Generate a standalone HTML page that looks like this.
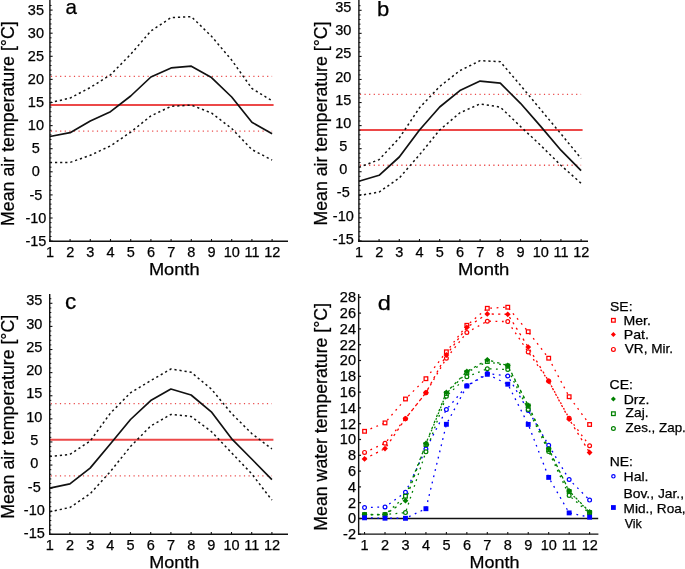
<!DOCTYPE html>
<html><head><meta charset="utf-8"><style>
html,body{margin:0;padding:0;background:#fff;}
svg{display:block;will-change:transform;}
text{font-family:"Liberation Sans", sans-serif;fill:#000;stroke:#000;stroke-width:0.25px;}
</style></head><body>
<svg width="685" height="569" viewBox="0 0 685 569">
<rect width="685" height="569" fill="#fff"/>
<line x1="49.9" y1="104.9" x2="273.6" y2="104.9" stroke="#ec4848" stroke-width="2"/>
<line x1="50.9" y1="76.4" x2="272.1" y2="76.4" stroke="#ea4a4a" stroke-width="1.4" stroke-dasharray="1.2 3.4"/>
<line x1="50.9" y1="131.1" x2="272.1" y2="131.1" stroke="#ea4a4a" stroke-width="1.4" stroke-dasharray="1.2 3.4"/>
<polyline points="49.9,102.7 70.1,98.1 90.3,87.5 110.5,74.8 130.7,54.3 150.9,31 171.1,17.6 191.3,16.6 211.5,36.3 231.7,60.1 251.9,88.5 272.1,100.8" fill="none" stroke="#111" stroke-width="1.5" stroke-dasharray="2.2 2.9"/>
<polyline points="49.9,162.4 70.1,162.4 90.3,155.3 110.5,145.9 130.7,132.1 150.9,115.9 171.1,106.3 191.3,105.1 211.5,113 231.7,128.5 251.9,149.6 272.1,160.1" fill="none" stroke="#111" stroke-width="1.5" stroke-dasharray="2.2 2.9"/>
<polyline points="49.9,136.5 70.1,132.7 90.3,121.1 110.5,111.7 130.7,96 150.9,77 171.1,67.9 191.3,66.2 211.5,77.6 231.7,97 251.9,122.3 272.1,133.7" fill="none" stroke="#111" stroke-width="1.7" stroke-linejoin="round"/>
<line x1="49.9" y1="0" x2="49.9" y2="242" stroke="#111" stroke-width="1.4"/>
<line x1="49.2" y1="241.3" x2="288" y2="241.3" stroke="#111" stroke-width="1.4"/>
<line x1="49.9" y1="241.1" x2="52.6" y2="241.1" stroke="#111" stroke-width="1.1"/>
<line x1="49.9" y1="236.48" x2="51.5" y2="236.48" stroke="#111" stroke-width="1"/>
<line x1="49.9" y1="231.86" x2="51.5" y2="231.86" stroke="#111" stroke-width="1"/>
<line x1="49.9" y1="227.24" x2="51.5" y2="227.24" stroke="#111" stroke-width="1"/>
<line x1="49.9" y1="222.62" x2="51.5" y2="222.62" stroke="#111" stroke-width="1"/>
<line x1="49.9" y1="218" x2="52.6" y2="218" stroke="#111" stroke-width="1.1"/>
<line x1="49.9" y1="213.38" x2="51.5" y2="213.38" stroke="#111" stroke-width="1"/>
<line x1="49.9" y1="208.76" x2="51.5" y2="208.76" stroke="#111" stroke-width="1"/>
<line x1="49.9" y1="204.14" x2="51.5" y2="204.14" stroke="#111" stroke-width="1"/>
<line x1="49.9" y1="199.52" x2="51.5" y2="199.52" stroke="#111" stroke-width="1"/>
<line x1="49.9" y1="194.9" x2="52.6" y2="194.9" stroke="#111" stroke-width="1.1"/>
<line x1="49.9" y1="190.28" x2="51.5" y2="190.28" stroke="#111" stroke-width="1"/>
<line x1="49.9" y1="185.66" x2="51.5" y2="185.66" stroke="#111" stroke-width="1"/>
<line x1="49.9" y1="181.04" x2="51.5" y2="181.04" stroke="#111" stroke-width="1"/>
<line x1="49.9" y1="176.42" x2="51.5" y2="176.42" stroke="#111" stroke-width="1"/>
<line x1="49.9" y1="171.8" x2="52.6" y2="171.8" stroke="#111" stroke-width="1.1"/>
<line x1="49.9" y1="167.18" x2="51.5" y2="167.18" stroke="#111" stroke-width="1"/>
<line x1="49.9" y1="162.56" x2="51.5" y2="162.56" stroke="#111" stroke-width="1"/>
<line x1="49.9" y1="157.94" x2="51.5" y2="157.94" stroke="#111" stroke-width="1"/>
<line x1="49.9" y1="153.32" x2="51.5" y2="153.32" stroke="#111" stroke-width="1"/>
<line x1="49.9" y1="148.7" x2="52.6" y2="148.7" stroke="#111" stroke-width="1.1"/>
<line x1="49.9" y1="144.08" x2="51.5" y2="144.08" stroke="#111" stroke-width="1"/>
<line x1="49.9" y1="139.46" x2="51.5" y2="139.46" stroke="#111" stroke-width="1"/>
<line x1="49.9" y1="134.84" x2="51.5" y2="134.84" stroke="#111" stroke-width="1"/>
<line x1="49.9" y1="130.22" x2="51.5" y2="130.22" stroke="#111" stroke-width="1"/>
<line x1="49.9" y1="125.6" x2="52.6" y2="125.6" stroke="#111" stroke-width="1.1"/>
<line x1="49.9" y1="120.98" x2="51.5" y2="120.98" stroke="#111" stroke-width="1"/>
<line x1="49.9" y1="116.36" x2="51.5" y2="116.36" stroke="#111" stroke-width="1"/>
<line x1="49.9" y1="111.74" x2="51.5" y2="111.74" stroke="#111" stroke-width="1"/>
<line x1="49.9" y1="107.12" x2="51.5" y2="107.12" stroke="#111" stroke-width="1"/>
<line x1="49.9" y1="102.5" x2="52.6" y2="102.5" stroke="#111" stroke-width="1.1"/>
<line x1="49.9" y1="97.88" x2="51.5" y2="97.88" stroke="#111" stroke-width="1"/>
<line x1="49.9" y1="93.26" x2="51.5" y2="93.26" stroke="#111" stroke-width="1"/>
<line x1="49.9" y1="88.64" x2="51.5" y2="88.64" stroke="#111" stroke-width="1"/>
<line x1="49.9" y1="84.02" x2="51.5" y2="84.02" stroke="#111" stroke-width="1"/>
<line x1="49.9" y1="79.4" x2="52.6" y2="79.4" stroke="#111" stroke-width="1.1"/>
<line x1="49.9" y1="74.78" x2="51.5" y2="74.78" stroke="#111" stroke-width="1"/>
<line x1="49.9" y1="70.16" x2="51.5" y2="70.16" stroke="#111" stroke-width="1"/>
<line x1="49.9" y1="65.54" x2="51.5" y2="65.54" stroke="#111" stroke-width="1"/>
<line x1="49.9" y1="60.92" x2="51.5" y2="60.92" stroke="#111" stroke-width="1"/>
<line x1="49.9" y1="56.3" x2="52.6" y2="56.3" stroke="#111" stroke-width="1.1"/>
<line x1="49.9" y1="51.68" x2="51.5" y2="51.68" stroke="#111" stroke-width="1"/>
<line x1="49.9" y1="47.06" x2="51.5" y2="47.06" stroke="#111" stroke-width="1"/>
<line x1="49.9" y1="42.44" x2="51.5" y2="42.44" stroke="#111" stroke-width="1"/>
<line x1="49.9" y1="37.82" x2="51.5" y2="37.82" stroke="#111" stroke-width="1"/>
<line x1="49.9" y1="33.2" x2="52.6" y2="33.2" stroke="#111" stroke-width="1.1"/>
<line x1="49.9" y1="28.58" x2="51.5" y2="28.58" stroke="#111" stroke-width="1"/>
<line x1="49.9" y1="23.96" x2="51.5" y2="23.96" stroke="#111" stroke-width="1"/>
<line x1="49.9" y1="19.34" x2="51.5" y2="19.34" stroke="#111" stroke-width="1"/>
<line x1="49.9" y1="14.72" x2="51.5" y2="14.72" stroke="#111" stroke-width="1"/>
<line x1="49.9" y1="10.1" x2="52.6" y2="10.1" stroke="#111" stroke-width="1.1"/>
<line x1="49.9" y1="5.48" x2="51.5" y2="5.48" stroke="#111" stroke-width="1"/>
<text x="35.9" y="245.8" font-size="14.5" text-anchor="middle" >-15</text>
<text x="35.9" y="222.67" font-size="14.5" text-anchor="middle" >-10</text>
<text x="35.9" y="199.54" font-size="14.5" text-anchor="middle" >-5</text>
<text x="35.9" y="176.41" font-size="14.5" text-anchor="middle" >0</text>
<text x="35.9" y="153.28" font-size="14.5" text-anchor="middle" >5</text>
<text x="35.9" y="130.15" font-size="14.5" text-anchor="middle" >10</text>
<text x="35.9" y="107.02" font-size="14.5" text-anchor="middle" >15</text>
<text x="35.9" y="83.89" font-size="14.5" text-anchor="middle" >20</text>
<text x="35.9" y="60.76" font-size="14.5" text-anchor="middle" >25</text>
<text x="35.9" y="37.63" font-size="14.5" text-anchor="middle" >30</text>
<text x="35.9" y="14.5" font-size="14.5" text-anchor="middle" >35</text>
<line x1="49.9" y1="241.3" x2="49.9" y2="239" stroke="#111" stroke-width="1.1"/>
<text x="50" y="257.2" font-size="14.5" text-anchor="middle" >1</text>
<line x1="70.1" y1="241.3" x2="70.1" y2="239" stroke="#111" stroke-width="1.1"/>
<text x="70.2" y="257.2" font-size="14.5" text-anchor="middle" >2</text>
<line x1="90.3" y1="241.3" x2="90.3" y2="239" stroke="#111" stroke-width="1.1"/>
<text x="90.4" y="257.2" font-size="14.5" text-anchor="middle" >3</text>
<line x1="110.5" y1="241.3" x2="110.5" y2="239" stroke="#111" stroke-width="1.1"/>
<text x="110.6" y="257.2" font-size="14.5" text-anchor="middle" >4</text>
<line x1="130.7" y1="241.3" x2="130.7" y2="239" stroke="#111" stroke-width="1.1"/>
<text x="130.8" y="257.2" font-size="14.5" text-anchor="middle" >5</text>
<line x1="150.9" y1="241.3" x2="150.9" y2="239" stroke="#111" stroke-width="1.1"/>
<text x="151" y="257.2" font-size="14.5" text-anchor="middle" >6</text>
<line x1="171.1" y1="241.3" x2="171.1" y2="239" stroke="#111" stroke-width="1.1"/>
<text x="171.2" y="257.2" font-size="14.5" text-anchor="middle" >7</text>
<line x1="191.3" y1="241.3" x2="191.3" y2="239" stroke="#111" stroke-width="1.1"/>
<text x="191.4" y="257.2" font-size="14.5" text-anchor="middle" >8</text>
<line x1="211.5" y1="241.3" x2="211.5" y2="239" stroke="#111" stroke-width="1.1"/>
<text x="211.6" y="257.2" font-size="14.5" text-anchor="middle" >9</text>
<line x1="231.7" y1="241.3" x2="231.7" y2="239" stroke="#111" stroke-width="1.1"/>
<text x="231.8" y="257.2" font-size="14.5" text-anchor="middle" >10</text>
<line x1="251.9" y1="241.3" x2="251.9" y2="239" stroke="#111" stroke-width="1.1"/>
<text x="252" y="257.2" font-size="14.5" text-anchor="middle" >11</text>
<line x1="272.1" y1="241.3" x2="272.1" y2="239" stroke="#111" stroke-width="1.1"/>
<text x="272.2" y="257.2" font-size="14.5" text-anchor="middle" >12</text>
<text x="148.9" y="274.93" font-size="16.73" textLength="50.68" lengthAdjust="spacingAndGlyphs">Month</text>
<text x="65.53" y="14" font-size="20.09" textLength="11.45" lengthAdjust="spacingAndGlyphs">a</text>
<text x="0" y="0" font-size="17.6" textLength="204.73" lengthAdjust="spacingAndGlyphs" transform="translate(13.95,225.97) rotate(-90)">Mean air temperature [°C]</text>
<line x1="358.9" y1="129.9" x2="582.6" y2="129.9" stroke="#ec4848" stroke-width="2"/>
<line x1="359.9" y1="94.4" x2="581.1" y2="94.4" stroke="#ea4a4a" stroke-width="1.4" stroke-dasharray="1.2 3.4"/>
<line x1="359.9" y1="165.3" x2="581.1" y2="165.3" stroke="#ea4a4a" stroke-width="1.4" stroke-dasharray="1.2 3.4"/>
<polyline points="358.9,167.4 379.1,159.6 399.3,138 419.5,107.8 439.7,86.5 459.9,70.6 480.1,60.7 500.3,61.7 520.5,85.3 540.7,109.6 560.9,133.8 581.1,158.5" fill="none" stroke="#111" stroke-width="1.5" stroke-dasharray="2.2 2.9"/>
<polyline points="358.9,195.5 379.1,192.1 399.3,178 419.5,154.8 439.7,130 459.9,112.8 480.1,103.9 500.3,107.1 520.5,126.5 540.7,145.4 560.9,165.3 581.1,183.3" fill="none" stroke="#111" stroke-width="1.5" stroke-dasharray="2.2 2.9"/>
<polyline points="358.9,181.2 379.1,175.3 399.3,157 419.5,130 439.7,107 459.9,90.6 480.1,81.1 500.3,83.2 520.5,103.3 540.7,126.4 560.9,150.2 581.1,170.6" fill="none" stroke="#111" stroke-width="1.7" stroke-linejoin="round"/>
<line x1="358.9" y1="0" x2="358.9" y2="242" stroke="#111" stroke-width="1.4"/>
<line x1="358.2" y1="241.3" x2="588" y2="241.3" stroke="#111" stroke-width="1.4"/>
<line x1="358.9" y1="240.9" x2="361.6" y2="240.9" stroke="#111" stroke-width="1.1"/>
<line x1="358.9" y1="236.29" x2="360.5" y2="236.29" stroke="#111" stroke-width="1"/>
<line x1="358.9" y1="231.68" x2="360.5" y2="231.68" stroke="#111" stroke-width="1"/>
<line x1="358.9" y1="227.06" x2="360.5" y2="227.06" stroke="#111" stroke-width="1"/>
<line x1="358.9" y1="222.45" x2="360.5" y2="222.45" stroke="#111" stroke-width="1"/>
<line x1="358.9" y1="217.84" x2="361.6" y2="217.84" stroke="#111" stroke-width="1.1"/>
<line x1="358.9" y1="213.23" x2="360.5" y2="213.23" stroke="#111" stroke-width="1"/>
<line x1="358.9" y1="208.62" x2="360.5" y2="208.62" stroke="#111" stroke-width="1"/>
<line x1="358.9" y1="204" x2="360.5" y2="204" stroke="#111" stroke-width="1"/>
<line x1="358.9" y1="199.39" x2="360.5" y2="199.39" stroke="#111" stroke-width="1"/>
<line x1="358.9" y1="194.78" x2="361.6" y2="194.78" stroke="#111" stroke-width="1.1"/>
<line x1="358.9" y1="190.17" x2="360.5" y2="190.17" stroke="#111" stroke-width="1"/>
<line x1="358.9" y1="185.56" x2="360.5" y2="185.56" stroke="#111" stroke-width="1"/>
<line x1="358.9" y1="180.94" x2="360.5" y2="180.94" stroke="#111" stroke-width="1"/>
<line x1="358.9" y1="176.33" x2="360.5" y2="176.33" stroke="#111" stroke-width="1"/>
<line x1="358.9" y1="171.72" x2="361.6" y2="171.72" stroke="#111" stroke-width="1.1"/>
<line x1="358.9" y1="167.11" x2="360.5" y2="167.11" stroke="#111" stroke-width="1"/>
<line x1="358.9" y1="162.5" x2="360.5" y2="162.5" stroke="#111" stroke-width="1"/>
<line x1="358.9" y1="157.88" x2="360.5" y2="157.88" stroke="#111" stroke-width="1"/>
<line x1="358.9" y1="153.27" x2="360.5" y2="153.27" stroke="#111" stroke-width="1"/>
<line x1="358.9" y1="148.66" x2="361.6" y2="148.66" stroke="#111" stroke-width="1.1"/>
<line x1="358.9" y1="144.05" x2="360.5" y2="144.05" stroke="#111" stroke-width="1"/>
<line x1="358.9" y1="139.44" x2="360.5" y2="139.44" stroke="#111" stroke-width="1"/>
<line x1="358.9" y1="134.82" x2="360.5" y2="134.82" stroke="#111" stroke-width="1"/>
<line x1="358.9" y1="130.21" x2="360.5" y2="130.21" stroke="#111" stroke-width="1"/>
<line x1="358.9" y1="125.6" x2="361.6" y2="125.6" stroke="#111" stroke-width="1.1"/>
<line x1="358.9" y1="120.99" x2="360.5" y2="120.99" stroke="#111" stroke-width="1"/>
<line x1="358.9" y1="116.38" x2="360.5" y2="116.38" stroke="#111" stroke-width="1"/>
<line x1="358.9" y1="111.76" x2="360.5" y2="111.76" stroke="#111" stroke-width="1"/>
<line x1="358.9" y1="107.15" x2="360.5" y2="107.15" stroke="#111" stroke-width="1"/>
<line x1="358.9" y1="102.54" x2="361.6" y2="102.54" stroke="#111" stroke-width="1.1"/>
<line x1="358.9" y1="97.93" x2="360.5" y2="97.93" stroke="#111" stroke-width="1"/>
<line x1="358.9" y1="93.32" x2="360.5" y2="93.32" stroke="#111" stroke-width="1"/>
<line x1="358.9" y1="88.7" x2="360.5" y2="88.7" stroke="#111" stroke-width="1"/>
<line x1="358.9" y1="84.09" x2="360.5" y2="84.09" stroke="#111" stroke-width="1"/>
<line x1="358.9" y1="79.48" x2="361.6" y2="79.48" stroke="#111" stroke-width="1.1"/>
<line x1="358.9" y1="74.87" x2="360.5" y2="74.87" stroke="#111" stroke-width="1"/>
<line x1="358.9" y1="70.26" x2="360.5" y2="70.26" stroke="#111" stroke-width="1"/>
<line x1="358.9" y1="65.64" x2="360.5" y2="65.64" stroke="#111" stroke-width="1"/>
<line x1="358.9" y1="61.03" x2="360.5" y2="61.03" stroke="#111" stroke-width="1"/>
<line x1="358.9" y1="56.42" x2="361.6" y2="56.42" stroke="#111" stroke-width="1.1"/>
<line x1="358.9" y1="51.81" x2="360.5" y2="51.81" stroke="#111" stroke-width="1"/>
<line x1="358.9" y1="47.2" x2="360.5" y2="47.2" stroke="#111" stroke-width="1"/>
<line x1="358.9" y1="42.58" x2="360.5" y2="42.58" stroke="#111" stroke-width="1"/>
<line x1="358.9" y1="37.97" x2="360.5" y2="37.97" stroke="#111" stroke-width="1"/>
<line x1="358.9" y1="33.36" x2="361.6" y2="33.36" stroke="#111" stroke-width="1.1"/>
<line x1="358.9" y1="28.75" x2="360.5" y2="28.75" stroke="#111" stroke-width="1"/>
<line x1="358.9" y1="24.14" x2="360.5" y2="24.14" stroke="#111" stroke-width="1"/>
<line x1="358.9" y1="19.52" x2="360.5" y2="19.52" stroke="#111" stroke-width="1"/>
<line x1="358.9" y1="14.91" x2="360.5" y2="14.91" stroke="#111" stroke-width="1"/>
<line x1="358.9" y1="10.3" x2="361.6" y2="10.3" stroke="#111" stroke-width="1.1"/>
<line x1="358.9" y1="5.69" x2="360.5" y2="5.69" stroke="#111" stroke-width="1"/>
<text x="343.3" y="243.8" font-size="14.5" text-anchor="middle" >-15</text>
<text x="343.3" y="220.63" font-size="14.5" text-anchor="middle" >-10</text>
<text x="343.3" y="197.46" font-size="14.5" text-anchor="middle" >-5</text>
<text x="343.3" y="174.29" font-size="14.5" text-anchor="middle" >0</text>
<text x="343.3" y="151.12" font-size="14.5" text-anchor="middle" >5</text>
<text x="343.3" y="127.95" font-size="14.5" text-anchor="middle" >10</text>
<text x="343.3" y="104.78" font-size="14.5" text-anchor="middle" >15</text>
<text x="343.3" y="81.61" font-size="14.5" text-anchor="middle" >20</text>
<text x="343.3" y="58.44" font-size="14.5" text-anchor="middle" >25</text>
<text x="343.3" y="35.27" font-size="14.5" text-anchor="middle" >30</text>
<text x="343.3" y="12.1" font-size="14.5" text-anchor="middle" >35</text>
<line x1="358.9" y1="241.3" x2="358.9" y2="239" stroke="#111" stroke-width="1.1"/>
<text x="359" y="257.2" font-size="14.5" text-anchor="middle" >1</text>
<line x1="379.1" y1="241.3" x2="379.1" y2="239" stroke="#111" stroke-width="1.1"/>
<text x="379.2" y="257.2" font-size="14.5" text-anchor="middle" >2</text>
<line x1="399.3" y1="241.3" x2="399.3" y2="239" stroke="#111" stroke-width="1.1"/>
<text x="399.4" y="257.2" font-size="14.5" text-anchor="middle" >3</text>
<line x1="419.5" y1="241.3" x2="419.5" y2="239" stroke="#111" stroke-width="1.1"/>
<text x="419.6" y="257.2" font-size="14.5" text-anchor="middle" >4</text>
<line x1="439.7" y1="241.3" x2="439.7" y2="239" stroke="#111" stroke-width="1.1"/>
<text x="439.8" y="257.2" font-size="14.5" text-anchor="middle" >5</text>
<line x1="459.9" y1="241.3" x2="459.9" y2="239" stroke="#111" stroke-width="1.1"/>
<text x="460" y="257.2" font-size="14.5" text-anchor="middle" >6</text>
<line x1="480.1" y1="241.3" x2="480.1" y2="239" stroke="#111" stroke-width="1.1"/>
<text x="480.2" y="257.2" font-size="14.5" text-anchor="middle" >7</text>
<line x1="500.3" y1="241.3" x2="500.3" y2="239" stroke="#111" stroke-width="1.1"/>
<text x="500.4" y="257.2" font-size="14.5" text-anchor="middle" >8</text>
<line x1="520.5" y1="241.3" x2="520.5" y2="239" stroke="#111" stroke-width="1.1"/>
<text x="520.6" y="257.2" font-size="14.5" text-anchor="middle" >9</text>
<line x1="540.7" y1="241.3" x2="540.7" y2="239" stroke="#111" stroke-width="1.1"/>
<text x="540.8" y="257.2" font-size="14.5" text-anchor="middle" >10</text>
<line x1="560.9" y1="241.3" x2="560.9" y2="239" stroke="#111" stroke-width="1.1"/>
<text x="561" y="257.2" font-size="14.5" text-anchor="middle" >11</text>
<line x1="581.1" y1="241.3" x2="581.1" y2="239" stroke="#111" stroke-width="1.1"/>
<text x="581.2" y="257.2" font-size="14.5" text-anchor="middle" >12</text>
<text x="458.08" y="274.93" font-size="16.73" textLength="51.31" lengthAdjust="spacingAndGlyphs">Month</text>
<text x="376.97" y="15.6" font-size="19.86" textLength="12.24" lengthAdjust="spacingAndGlyphs">b</text>
<text x="0" y="0" font-size="17.6" textLength="204.07" lengthAdjust="spacingAndGlyphs" transform="translate(326.8,225.56) rotate(-90)">Mean air temperature [°C]</text>
<line x1="49.7" y1="439.8" x2="273.4" y2="439.8" stroke="#ec4848" stroke-width="2"/>
<line x1="50.7" y1="403.6" x2="271.9" y2="403.6" stroke="#ea4a4a" stroke-width="1.4" stroke-dasharray="1.2 3.4"/>
<line x1="50.7" y1="475.9" x2="271.9" y2="475.9" stroke="#ea4a4a" stroke-width="1.4" stroke-dasharray="1.2 3.4"/>
<polyline points="49.7,456.5 69.9,454.4 90.1,441.1 110.3,413.3 130.5,392.8 150.7,380.6 170.9,369 191.1,372.2 211.3,389 231.5,413.4 251.7,433.5 271.9,449" fill="none" stroke="#111" stroke-width="1.5" stroke-dasharray="2.2 2.9"/>
<polyline points="49.7,511.7 69.9,507.5 90.1,493.8 110.3,471.7 130.5,446.5 150.7,426 170.9,414.4 191.1,416.5 211.3,431.5 231.5,452.7 251.7,473.8 271.9,500.1" fill="none" stroke="#111" stroke-width="1.5" stroke-dasharray="2.2 2.9"/>
<polyline points="49.7,488.1 69.9,483.9 90.1,468.1 110.3,444 130.5,419.5 150.7,400.6 170.9,389 191.1,395 211.3,411.8 231.5,438.6 251.7,459 271.9,479.7" fill="none" stroke="#111" stroke-width="1.7" stroke-linejoin="round"/>
<line x1="49.7" y1="294" x2="49.7" y2="535" stroke="#111" stroke-width="1.4"/>
<line x1="49" y1="534.3" x2="288" y2="534.3" stroke="#111" stroke-width="1.4"/>
<line x1="49.7" y1="534.4" x2="52.4" y2="534.4" stroke="#111" stroke-width="1.1"/>
<line x1="49.7" y1="529.78" x2="51.3" y2="529.78" stroke="#111" stroke-width="1"/>
<line x1="49.7" y1="525.16" x2="51.3" y2="525.16" stroke="#111" stroke-width="1"/>
<line x1="49.7" y1="520.53" x2="51.3" y2="520.53" stroke="#111" stroke-width="1"/>
<line x1="49.7" y1="515.91" x2="51.3" y2="515.91" stroke="#111" stroke-width="1"/>
<line x1="49.7" y1="511.29" x2="52.4" y2="511.29" stroke="#111" stroke-width="1.1"/>
<line x1="49.7" y1="506.67" x2="51.3" y2="506.67" stroke="#111" stroke-width="1"/>
<line x1="49.7" y1="502.05" x2="51.3" y2="502.05" stroke="#111" stroke-width="1"/>
<line x1="49.7" y1="497.42" x2="51.3" y2="497.42" stroke="#111" stroke-width="1"/>
<line x1="49.7" y1="492.8" x2="51.3" y2="492.8" stroke="#111" stroke-width="1"/>
<line x1="49.7" y1="488.18" x2="52.4" y2="488.18" stroke="#111" stroke-width="1.1"/>
<line x1="49.7" y1="483.56" x2="51.3" y2="483.56" stroke="#111" stroke-width="1"/>
<line x1="49.7" y1="478.94" x2="51.3" y2="478.94" stroke="#111" stroke-width="1"/>
<line x1="49.7" y1="474.31" x2="51.3" y2="474.31" stroke="#111" stroke-width="1"/>
<line x1="49.7" y1="469.69" x2="51.3" y2="469.69" stroke="#111" stroke-width="1"/>
<line x1="49.7" y1="465.07" x2="52.4" y2="465.07" stroke="#111" stroke-width="1.1"/>
<line x1="49.7" y1="460.45" x2="51.3" y2="460.45" stroke="#111" stroke-width="1"/>
<line x1="49.7" y1="455.83" x2="51.3" y2="455.83" stroke="#111" stroke-width="1"/>
<line x1="49.7" y1="451.2" x2="51.3" y2="451.2" stroke="#111" stroke-width="1"/>
<line x1="49.7" y1="446.58" x2="51.3" y2="446.58" stroke="#111" stroke-width="1"/>
<line x1="49.7" y1="441.96" x2="52.4" y2="441.96" stroke="#111" stroke-width="1.1"/>
<line x1="49.7" y1="437.34" x2="51.3" y2="437.34" stroke="#111" stroke-width="1"/>
<line x1="49.7" y1="432.72" x2="51.3" y2="432.72" stroke="#111" stroke-width="1"/>
<line x1="49.7" y1="428.09" x2="51.3" y2="428.09" stroke="#111" stroke-width="1"/>
<line x1="49.7" y1="423.47" x2="51.3" y2="423.47" stroke="#111" stroke-width="1"/>
<line x1="49.7" y1="418.85" x2="52.4" y2="418.85" stroke="#111" stroke-width="1.1"/>
<line x1="49.7" y1="414.23" x2="51.3" y2="414.23" stroke="#111" stroke-width="1"/>
<line x1="49.7" y1="409.61" x2="51.3" y2="409.61" stroke="#111" stroke-width="1"/>
<line x1="49.7" y1="404.98" x2="51.3" y2="404.98" stroke="#111" stroke-width="1"/>
<line x1="49.7" y1="400.36" x2="51.3" y2="400.36" stroke="#111" stroke-width="1"/>
<line x1="49.7" y1="395.74" x2="52.4" y2="395.74" stroke="#111" stroke-width="1.1"/>
<line x1="49.7" y1="391.12" x2="51.3" y2="391.12" stroke="#111" stroke-width="1"/>
<line x1="49.7" y1="386.5" x2="51.3" y2="386.5" stroke="#111" stroke-width="1"/>
<line x1="49.7" y1="381.87" x2="51.3" y2="381.87" stroke="#111" stroke-width="1"/>
<line x1="49.7" y1="377.25" x2="51.3" y2="377.25" stroke="#111" stroke-width="1"/>
<line x1="49.7" y1="372.63" x2="52.4" y2="372.63" stroke="#111" stroke-width="1.1"/>
<line x1="49.7" y1="368.01" x2="51.3" y2="368.01" stroke="#111" stroke-width="1"/>
<line x1="49.7" y1="363.39" x2="51.3" y2="363.39" stroke="#111" stroke-width="1"/>
<line x1="49.7" y1="358.76" x2="51.3" y2="358.76" stroke="#111" stroke-width="1"/>
<line x1="49.7" y1="354.14" x2="51.3" y2="354.14" stroke="#111" stroke-width="1"/>
<line x1="49.7" y1="349.52" x2="52.4" y2="349.52" stroke="#111" stroke-width="1.1"/>
<line x1="49.7" y1="344.9" x2="51.3" y2="344.9" stroke="#111" stroke-width="1"/>
<line x1="49.7" y1="340.28" x2="51.3" y2="340.28" stroke="#111" stroke-width="1"/>
<line x1="49.7" y1="335.65" x2="51.3" y2="335.65" stroke="#111" stroke-width="1"/>
<line x1="49.7" y1="331.03" x2="51.3" y2="331.03" stroke="#111" stroke-width="1"/>
<line x1="49.7" y1="326.41" x2="52.4" y2="326.41" stroke="#111" stroke-width="1.1"/>
<line x1="49.7" y1="321.79" x2="51.3" y2="321.79" stroke="#111" stroke-width="1"/>
<line x1="49.7" y1="317.17" x2="51.3" y2="317.17" stroke="#111" stroke-width="1"/>
<line x1="49.7" y1="312.54" x2="51.3" y2="312.54" stroke="#111" stroke-width="1"/>
<line x1="49.7" y1="307.92" x2="51.3" y2="307.92" stroke="#111" stroke-width="1"/>
<line x1="49.7" y1="303.3" x2="52.4" y2="303.3" stroke="#111" stroke-width="1.1"/>
<line x1="49.7" y1="298.68" x2="51.3" y2="298.68" stroke="#111" stroke-width="1"/>
<text x="34.3" y="538.1" font-size="14.5" text-anchor="middle" >-15</text>
<text x="34.3" y="514.82" font-size="14.5" text-anchor="middle" >-10</text>
<text x="34.3" y="491.54" font-size="14.5" text-anchor="middle" >-5</text>
<text x="34.3" y="468.26" font-size="14.5" text-anchor="middle" >0</text>
<text x="34.3" y="444.98" font-size="14.5" text-anchor="middle" >5</text>
<text x="34.3" y="421.7" font-size="14.5" text-anchor="middle" >10</text>
<text x="34.3" y="398.42" font-size="14.5" text-anchor="middle" >15</text>
<text x="34.3" y="375.14" font-size="14.5" text-anchor="middle" >20</text>
<text x="34.3" y="351.86" font-size="14.5" text-anchor="middle" >25</text>
<text x="34.3" y="328.58" font-size="14.5" text-anchor="middle" >30</text>
<text x="34.3" y="305.3" font-size="14.5" text-anchor="middle" >35</text>
<line x1="49.7" y1="534.3" x2="49.7" y2="532" stroke="#111" stroke-width="1.1"/>
<text x="49.8" y="550.2" font-size="14.5" text-anchor="middle" >1</text>
<line x1="69.9" y1="534.3" x2="69.9" y2="532" stroke="#111" stroke-width="1.1"/>
<text x="70" y="550.2" font-size="14.5" text-anchor="middle" >2</text>
<line x1="90.1" y1="534.3" x2="90.1" y2="532" stroke="#111" stroke-width="1.1"/>
<text x="90.2" y="550.2" font-size="14.5" text-anchor="middle" >3</text>
<line x1="110.3" y1="534.3" x2="110.3" y2="532" stroke="#111" stroke-width="1.1"/>
<text x="110.4" y="550.2" font-size="14.5" text-anchor="middle" >4</text>
<line x1="130.5" y1="534.3" x2="130.5" y2="532" stroke="#111" stroke-width="1.1"/>
<text x="130.6" y="550.2" font-size="14.5" text-anchor="middle" >5</text>
<line x1="150.7" y1="534.3" x2="150.7" y2="532" stroke="#111" stroke-width="1.1"/>
<text x="150.8" y="550.2" font-size="14.5" text-anchor="middle" >6</text>
<line x1="170.9" y1="534.3" x2="170.9" y2="532" stroke="#111" stroke-width="1.1"/>
<text x="171" y="550.2" font-size="14.5" text-anchor="middle" >7</text>
<line x1="191.1" y1="534.3" x2="191.1" y2="532" stroke="#111" stroke-width="1.1"/>
<text x="191.2" y="550.2" font-size="14.5" text-anchor="middle" >8</text>
<line x1="211.3" y1="534.3" x2="211.3" y2="532" stroke="#111" stroke-width="1.1"/>
<text x="211.4" y="550.2" font-size="14.5" text-anchor="middle" >9</text>
<line x1="231.5" y1="534.3" x2="231.5" y2="532" stroke="#111" stroke-width="1.1"/>
<text x="231.6" y="550.2" font-size="14.5" text-anchor="middle" >10</text>
<line x1="251.7" y1="534.3" x2="251.7" y2="532" stroke="#111" stroke-width="1.1"/>
<text x="251.8" y="550.2" font-size="14.5" text-anchor="middle" >11</text>
<line x1="271.9" y1="534.3" x2="271.9" y2="532" stroke="#111" stroke-width="1.1"/>
<text x="272" y="550.2" font-size="14.5" text-anchor="middle" >12</text>
<text x="149.21" y="568.13" font-size="16.73" textLength="50.15" lengthAdjust="spacingAndGlyphs">Month</text>
<text x="65.04" y="308.79" font-size="21.37" textLength="11.28" lengthAdjust="spacingAndGlyphs">c</text>
<text x="0" y="0" font-size="17.6" textLength="204.02" lengthAdjust="spacingAndGlyphs" transform="translate(13.8,518.86) rotate(-90)">Mean air temperature [°C]</text>
<line x1="358.65" y1="518.5" x2="598.2" y2="518.5" stroke="#111" stroke-width="1.6"/>
<polyline points="364.55,431.3 385.01,422.9 405.47,399 425.93,378.7 446.39,351.8 466.85,325.3 487.31,308.3 507.77,307.2 528.23,331.7 548.69,358.2 569.15,396.7 589.61,424.5" fill="none" stroke="#ff0000" stroke-width="1.3" stroke-dasharray="1.8 4.6"/>
<polyline points="364.55,452.4 385.01,443.3 405.47,418.7 425.93,392.7 446.39,358.3 466.85,332.5 487.31,321.2 507.77,321.6 528.23,351.9 548.69,381 569.15,418.3 589.61,445.8" fill="none" stroke="#ff0000" stroke-width="1.3" stroke-dasharray="1.8 4.6"/>
<polyline points="364.55,458.9 385.01,448.6 405.47,418.7 425.93,392.7 446.39,355 466.85,327.4 487.31,313.9 507.77,314.3 528.23,347.1 548.69,381.2 569.15,419.2 589.61,452.5" fill="none" stroke="#ff0000" stroke-width="1.3" stroke-dasharray="2.2 4.2"/>
<polyline points="364.55,507.6 385.01,507 405.47,492.3 425.93,449.1 446.39,409.6 466.85,385.8 487.31,373.5 507.77,376 528.23,410.5 548.69,445.3 569.15,479.5 589.61,500.1" fill="none" stroke="#0000ff" stroke-width="1.3" stroke-dasharray="1.8 4.6"/>
<polyline points="364.55,514.5 385.01,514.5 405.47,512.6 425.93,451.7 446.39,396.2 466.85,376.8 487.31,368.8 507.77,369.5 528.23,409.5 548.69,451.4 569.15,495.4 589.61,513.5" fill="none" stroke="#008000" stroke-width="1.3" stroke-dasharray="1.8 4.4"/>
<polyline points="364.55,514.6 385.01,514.6 405.47,496.2 425.93,444.5 446.39,393.5 466.85,372.5 487.31,361.5 507.77,366 528.23,406 548.69,449.5 569.15,491.5 589.61,512.5" fill="none" stroke="#008000" stroke-width="1.3" stroke-dasharray="1.8 4.4"/>
<polyline points="364.55,514.6 385.01,514.6 405.47,500.7 425.93,443.5 446.39,392.4 466.85,371.5 487.31,359.8 507.77,365.5 528.23,405.5 548.69,448.8 569.15,491 589.61,512" fill="none" stroke="#008000" stroke-width="1.3" stroke-dasharray="2.4 4"/>
<polyline points="364.55,517.8 385.01,518.2 405.47,518.3 425.93,508.7 446.39,424.3 466.85,386 487.31,374.3 507.77,384.2 528.23,424.4 548.69,477.4 569.15,512.9 589.61,517.2" fill="none" stroke="#0000ff" stroke-width="1.3" stroke-dasharray="1.8 4.6"/>
<rect x="362.73" y="429.48" width="3.65" height="3.65" fill="white" stroke="#ff0000" stroke-width="1.25"/>
<rect x="383.19" y="421.07" width="3.65" height="3.65" fill="white" stroke="#ff0000" stroke-width="1.25"/>
<rect x="403.65" y="397.18" width="3.65" height="3.65" fill="white" stroke="#ff0000" stroke-width="1.25"/>
<rect x="424.11" y="376.88" width="3.65" height="3.65" fill="white" stroke="#ff0000" stroke-width="1.25"/>
<rect x="444.56" y="349.98" width="3.65" height="3.65" fill="white" stroke="#ff0000" stroke-width="1.25"/>
<rect x="465.03" y="323.48" width="3.65" height="3.65" fill="white" stroke="#ff0000" stroke-width="1.25"/>
<rect x="485.49" y="306.48" width="3.65" height="3.65" fill="white" stroke="#ff0000" stroke-width="1.25"/>
<rect x="505.94" y="305.38" width="3.65" height="3.65" fill="white" stroke="#ff0000" stroke-width="1.25"/>
<rect x="526.4" y="329.88" width="3.65" height="3.65" fill="white" stroke="#ff0000" stroke-width="1.25"/>
<rect x="546.87" y="356.38" width="3.65" height="3.65" fill="white" stroke="#ff0000" stroke-width="1.25"/>
<rect x="567.33" y="394.88" width="3.65" height="3.65" fill="white" stroke="#ff0000" stroke-width="1.25"/>
<rect x="587.78" y="422.68" width="3.65" height="3.65" fill="white" stroke="#ff0000" stroke-width="1.25"/>
<circle cx="364.55" cy="452.4" r="1.9" fill="white" stroke="#ff0000" stroke-width="1.2"/>
<circle cx="385.01" cy="443.3" r="1.9" fill="white" stroke="#ff0000" stroke-width="1.2"/>
<circle cx="405.47" cy="418.7" r="1.9" fill="white" stroke="#ff0000" stroke-width="1.2"/>
<circle cx="425.93" cy="392.7" r="1.9" fill="white" stroke="#ff0000" stroke-width="1.2"/>
<circle cx="446.39" cy="358.3" r="1.9" fill="white" stroke="#ff0000" stroke-width="1.2"/>
<circle cx="466.85" cy="332.5" r="1.9" fill="white" stroke="#ff0000" stroke-width="1.2"/>
<circle cx="487.31" cy="321.2" r="1.9" fill="white" stroke="#ff0000" stroke-width="1.2"/>
<circle cx="507.77" cy="321.6" r="1.9" fill="white" stroke="#ff0000" stroke-width="1.2"/>
<circle cx="528.23" cy="351.9" r="1.9" fill="white" stroke="#ff0000" stroke-width="1.2"/>
<circle cx="548.69" cy="381" r="1.9" fill="white" stroke="#ff0000" stroke-width="1.2"/>
<circle cx="569.15" cy="418.3" r="1.9" fill="white" stroke="#ff0000" stroke-width="1.2"/>
<circle cx="589.61" cy="445.8" r="1.9" fill="white" stroke="#ff0000" stroke-width="1.2"/>
<path d="M364.55 456L367.45 458.9L364.55 461.8L361.65 458.9Z" fill="#ff0000"/>
<path d="M385.01 445.7L387.91 448.6L385.01 451.5L382.11 448.6Z" fill="#ff0000"/>
<path d="M405.47 415.8L408.37 418.7L405.47 421.6L402.57 418.7Z" fill="#ff0000"/>
<path d="M425.93 389.8L428.83 392.7L425.93 395.6L423.03 392.7Z" fill="#ff0000"/>
<path d="M446.39 352.1L449.29 355L446.39 357.9L443.49 355Z" fill="#ff0000"/>
<path d="M466.85 324.5L469.75 327.4L466.85 330.3L463.95 327.4Z" fill="#ff0000"/>
<path d="M487.31 311L490.21 313.9L487.31 316.8L484.41 313.9Z" fill="#ff0000"/>
<path d="M507.77 311.4L510.67 314.3L507.77 317.2L504.87 314.3Z" fill="#ff0000"/>
<path d="M528.23 344.2L531.13 347.1L528.23 350L525.33 347.1Z" fill="#ff0000"/>
<path d="M548.69 378.3L551.59 381.2L548.69 384.1L545.79 381.2Z" fill="#ff0000"/>
<path d="M569.15 416.3L572.05 419.2L569.15 422.1L566.25 419.2Z" fill="#ff0000"/>
<path d="M589.61 449.6L592.51 452.5L589.61 455.4L586.71 452.5Z" fill="#ff0000"/>
<circle cx="364.55" cy="507.6" r="1.9" fill="white" stroke="#0000ff" stroke-width="1.2"/>
<circle cx="385.01" cy="507" r="1.9" fill="white" stroke="#0000ff" stroke-width="1.2"/>
<circle cx="405.47" cy="492.3" r="1.9" fill="white" stroke="#0000ff" stroke-width="1.2"/>
<circle cx="425.93" cy="449.1" r="1.9" fill="white" stroke="#0000ff" stroke-width="1.2"/>
<circle cx="446.39" cy="409.6" r="1.9" fill="white" stroke="#0000ff" stroke-width="1.2"/>
<circle cx="466.85" cy="385.8" r="1.9" fill="white" stroke="#0000ff" stroke-width="1.2"/>
<circle cx="487.31" cy="373.5" r="1.9" fill="white" stroke="#0000ff" stroke-width="1.2"/>
<circle cx="507.77" cy="376" r="1.9" fill="white" stroke="#0000ff" stroke-width="1.2"/>
<circle cx="528.23" cy="410.5" r="1.9" fill="white" stroke="#0000ff" stroke-width="1.2"/>
<circle cx="548.69" cy="445.3" r="1.9" fill="white" stroke="#0000ff" stroke-width="1.2"/>
<circle cx="569.15" cy="479.5" r="1.9" fill="white" stroke="#0000ff" stroke-width="1.2"/>
<circle cx="589.61" cy="500.1" r="1.9" fill="white" stroke="#0000ff" stroke-width="1.2"/>
<circle cx="364.55" cy="514.5" r="1.9" fill="white" stroke="#008000" stroke-width="1.2"/>
<circle cx="385.01" cy="514.5" r="1.9" fill="white" stroke="#008000" stroke-width="1.2"/>
<circle cx="405.47" cy="512.6" r="1.9" fill="white" stroke="#008000" stroke-width="1.2"/>
<circle cx="425.93" cy="451.7" r="1.9" fill="white" stroke="#008000" stroke-width="1.2"/>
<circle cx="446.39" cy="396.2" r="1.9" fill="white" stroke="#008000" stroke-width="1.2"/>
<circle cx="466.85" cy="376.8" r="1.9" fill="white" stroke="#008000" stroke-width="1.2"/>
<circle cx="487.31" cy="368.8" r="1.9" fill="white" stroke="#008000" stroke-width="1.2"/>
<circle cx="507.77" cy="369.5" r="1.9" fill="white" stroke="#008000" stroke-width="1.2"/>
<circle cx="528.23" cy="409.5" r="1.9" fill="white" stroke="#008000" stroke-width="1.2"/>
<circle cx="548.69" cy="451.4" r="1.9" fill="white" stroke="#008000" stroke-width="1.2"/>
<circle cx="569.15" cy="495.4" r="1.9" fill="white" stroke="#008000" stroke-width="1.2"/>
<circle cx="589.61" cy="513.5" r="1.9" fill="white" stroke="#008000" stroke-width="1.2"/>
<rect x="362.73" y="512.77" width="3.65" height="3.65" fill="white" stroke="#008000" stroke-width="1.25"/>
<rect x="383.19" y="512.77" width="3.65" height="3.65" fill="white" stroke="#008000" stroke-width="1.25"/>
<rect x="403.65" y="494.38" width="3.65" height="3.65" fill="white" stroke="#008000" stroke-width="1.25"/>
<rect x="424.11" y="442.68" width="3.65" height="3.65" fill="white" stroke="#008000" stroke-width="1.25"/>
<rect x="444.56" y="391.68" width="3.65" height="3.65" fill="white" stroke="#008000" stroke-width="1.25"/>
<rect x="465.03" y="370.68" width="3.65" height="3.65" fill="white" stroke="#008000" stroke-width="1.25"/>
<rect x="485.49" y="359.68" width="3.65" height="3.65" fill="white" stroke="#008000" stroke-width="1.25"/>
<rect x="505.94" y="364.18" width="3.65" height="3.65" fill="white" stroke="#008000" stroke-width="1.25"/>
<rect x="526.4" y="404.18" width="3.65" height="3.65" fill="white" stroke="#008000" stroke-width="1.25"/>
<rect x="546.87" y="447.68" width="3.65" height="3.65" fill="white" stroke="#008000" stroke-width="1.25"/>
<rect x="567.33" y="489.68" width="3.65" height="3.65" fill="white" stroke="#008000" stroke-width="1.25"/>
<rect x="587.78" y="510.68" width="3.65" height="3.65" fill="white" stroke="#008000" stroke-width="1.25"/>
<path d="M364.55 511.7L367.45 514.6L364.55 517.5L361.65 514.6Z" fill="#008000"/>
<path d="M385.01 511.7L387.91 514.6L385.01 517.5L382.11 514.6Z" fill="#008000"/>
<path d="M405.47 497.8L408.37 500.7L405.47 503.6L402.57 500.7Z" fill="#008000"/>
<path d="M425.93 440.6L428.83 443.5L425.93 446.4L423.03 443.5Z" fill="#008000"/>
<path d="M446.39 389.5L449.29 392.4L446.39 395.3L443.49 392.4Z" fill="#008000"/>
<path d="M466.85 368.6L469.75 371.5L466.85 374.4L463.95 371.5Z" fill="#008000"/>
<path d="M487.31 356.9L490.21 359.8L487.31 362.7L484.41 359.8Z" fill="#008000"/>
<path d="M507.77 362.6L510.67 365.5L507.77 368.4L504.87 365.5Z" fill="#008000"/>
<path d="M528.23 402.6L531.13 405.5L528.23 408.4L525.33 405.5Z" fill="#008000"/>
<path d="M548.69 445.9L551.59 448.8L548.69 451.7L545.79 448.8Z" fill="#008000"/>
<path d="M569.15 488.1L572.05 491L569.15 493.9L566.25 491Z" fill="#008000"/>
<path d="M589.61 509.1L592.51 512L589.61 514.9L586.71 512Z" fill="#008000"/>
<rect x="362.1" y="515.35" width="4.9" height="4.9" fill="#0000ff"/>
<rect x="382.56" y="515.75" width="4.9" height="4.9" fill="#0000ff"/>
<rect x="403.02" y="515.85" width="4.9" height="4.9" fill="#0000ff"/>
<rect x="423.48" y="506.25" width="4.9" height="4.9" fill="#0000ff"/>
<rect x="443.94" y="421.85" width="4.9" height="4.9" fill="#0000ff"/>
<rect x="464.4" y="383.55" width="4.9" height="4.9" fill="#0000ff"/>
<rect x="484.86" y="371.85" width="4.9" height="4.9" fill="#0000ff"/>
<rect x="505.32" y="381.75" width="4.9" height="4.9" fill="#0000ff"/>
<rect x="525.78" y="421.95" width="4.9" height="4.9" fill="#0000ff"/>
<rect x="546.24" y="474.95" width="4.9" height="4.9" fill="#0000ff"/>
<rect x="566.7" y="510.45" width="4.9" height="4.9" fill="#0000ff"/>
<rect x="587.16" y="514.75" width="4.9" height="4.9" fill="#0000ff"/>
<line x1="358.65" y1="294" x2="358.65" y2="534.85" stroke="#111" stroke-width="1.4"/>
<line x1="357.95" y1="534.15" x2="598.4" y2="534.15" stroke="#111" stroke-width="1.4"/>
<line x1="358.65" y1="534.3" x2="361.05" y2="534.3" stroke="#111" stroke-width="1.2"/>
<text x="356" y="539.2" font-size="14.5" text-anchor="end" >-2</text>
<line x1="358.65" y1="518.5" x2="361.05" y2="518.5" stroke="#111" stroke-width="1.2"/>
<text x="356" y="523.4" font-size="14.5" text-anchor="end" >0</text>
<line x1="358.65" y1="502.7" x2="361.05" y2="502.7" stroke="#111" stroke-width="1.2"/>
<text x="356" y="507.6" font-size="14.5" text-anchor="end" >2</text>
<line x1="358.65" y1="486.9" x2="361.05" y2="486.9" stroke="#111" stroke-width="1.2"/>
<text x="356" y="491.8" font-size="14.5" text-anchor="end" >4</text>
<line x1="358.65" y1="471.1" x2="361.05" y2="471.1" stroke="#111" stroke-width="1.2"/>
<text x="356" y="476" font-size="14.5" text-anchor="end" >6</text>
<line x1="358.65" y1="455.3" x2="361.05" y2="455.3" stroke="#111" stroke-width="1.2"/>
<text x="356" y="460.2" font-size="14.5" text-anchor="end" >8</text>
<line x1="358.65" y1="439.5" x2="361.05" y2="439.5" stroke="#111" stroke-width="1.2"/>
<text x="356" y="444.4" font-size="14.5" text-anchor="end" >10</text>
<line x1="358.65" y1="423.7" x2="361.05" y2="423.7" stroke="#111" stroke-width="1.2"/>
<text x="356" y="428.6" font-size="14.5" text-anchor="end" >12</text>
<line x1="358.65" y1="407.9" x2="361.05" y2="407.9" stroke="#111" stroke-width="1.2"/>
<text x="356" y="412.8" font-size="14.5" text-anchor="end" >14</text>
<line x1="358.65" y1="392.1" x2="361.05" y2="392.1" stroke="#111" stroke-width="1.2"/>
<text x="356" y="397" font-size="14.5" text-anchor="end" >16</text>
<line x1="358.65" y1="376.3" x2="361.05" y2="376.3" stroke="#111" stroke-width="1.2"/>
<text x="356" y="381.2" font-size="14.5" text-anchor="end" >18</text>
<line x1="358.65" y1="360.5" x2="361.05" y2="360.5" stroke="#111" stroke-width="1.2"/>
<text x="356" y="365.4" font-size="14.5" text-anchor="end" >20</text>
<line x1="358.65" y1="344.7" x2="361.05" y2="344.7" stroke="#111" stroke-width="1.2"/>
<text x="356" y="349.6" font-size="14.5" text-anchor="end" >22</text>
<line x1="358.65" y1="328.9" x2="361.05" y2="328.9" stroke="#111" stroke-width="1.2"/>
<text x="356" y="333.8" font-size="14.5" text-anchor="end" >24</text>
<line x1="358.65" y1="313.1" x2="361.05" y2="313.1" stroke="#111" stroke-width="1.2"/>
<text x="356" y="318" font-size="14.5" text-anchor="end" >26</text>
<line x1="358.65" y1="297.3" x2="361.05" y2="297.3" stroke="#111" stroke-width="1.2"/>
<text x="356" y="302.2" font-size="14.5" text-anchor="end" >28</text>
<line x1="364.55" y1="534.15" x2="364.55" y2="531.9" stroke="#111" stroke-width="1.1"/>
<text x="364.65" y="550.2" font-size="14.5" text-anchor="middle" >1</text>
<line x1="385.01" y1="534.15" x2="385.01" y2="531.9" stroke="#111" stroke-width="1.1"/>
<text x="385.11" y="550.2" font-size="14.5" text-anchor="middle" >2</text>
<line x1="405.47" y1="534.15" x2="405.47" y2="531.9" stroke="#111" stroke-width="1.1"/>
<text x="405.57" y="550.2" font-size="14.5" text-anchor="middle" >3</text>
<line x1="425.93" y1="534.15" x2="425.93" y2="531.9" stroke="#111" stroke-width="1.1"/>
<text x="426.03" y="550.2" font-size="14.5" text-anchor="middle" >4</text>
<line x1="446.39" y1="534.15" x2="446.39" y2="531.9" stroke="#111" stroke-width="1.1"/>
<text x="446.49" y="550.2" font-size="14.5" text-anchor="middle" >5</text>
<line x1="466.85" y1="534.15" x2="466.85" y2="531.9" stroke="#111" stroke-width="1.1"/>
<text x="466.95" y="550.2" font-size="14.5" text-anchor="middle" >6</text>
<line x1="487.31" y1="534.15" x2="487.31" y2="531.9" stroke="#111" stroke-width="1.1"/>
<text x="487.41" y="550.2" font-size="14.5" text-anchor="middle" >7</text>
<line x1="507.77" y1="534.15" x2="507.77" y2="531.9" stroke="#111" stroke-width="1.1"/>
<text x="507.87" y="550.2" font-size="14.5" text-anchor="middle" >8</text>
<line x1="528.23" y1="534.15" x2="528.23" y2="531.9" stroke="#111" stroke-width="1.1"/>
<text x="528.33" y="550.2" font-size="14.5" text-anchor="middle" >9</text>
<line x1="548.69" y1="534.15" x2="548.69" y2="531.9" stroke="#111" stroke-width="1.1"/>
<text x="548.79" y="550.2" font-size="14.5" text-anchor="middle" >10</text>
<line x1="569.15" y1="534.15" x2="569.15" y2="531.9" stroke="#111" stroke-width="1.1"/>
<text x="569.25" y="550.2" font-size="14.5" text-anchor="middle" >11</text>
<line x1="589.61" y1="534.15" x2="589.61" y2="531.9" stroke="#111" stroke-width="1.1"/>
<text x="589.71" y="550.2" font-size="14.5" text-anchor="middle" >12</text>
<text x="469.52" y="568.13" font-size="16.73" textLength="49.94" lengthAdjust="spacingAndGlyphs">Month</text>
<text x="377.7" y="309.59" font-size="20.54" textLength="13.1" lengthAdjust="spacingAndGlyphs">d</text>
<text x="0" y="0" font-size="17.6" textLength="227.7" lengthAdjust="spacingAndGlyphs" transform="translate(327,530.66) rotate(-90)">Mean water temperature [°C]</text>
<text x="610.07" y="310.7" font-size="13.3" textLength="22.47" lengthAdjust="spacingAndGlyphs">SE:</text>
<rect x="611.57" y="318.48" width="3.65" height="3.65" fill="white" stroke="#ff0000" stroke-width="1.25"/>
<text x="623.54" y="324.7" font-size="13.3" textLength="27.43" lengthAdjust="spacingAndGlyphs">Mer.</text>
<path d="M613.4 331.9L615.9 334.4L613.4 336.9L610.9 334.4Z" fill="#ff0000"/>
<text x="623.73" y="338.8" font-size="13.3" textLength="25.16" lengthAdjust="spacingAndGlyphs">Pat.</text>
<circle cx="613.4" cy="349.4" r="1.9" fill="white" stroke="#ff0000" stroke-width="1.2"/>
<text x="624.83" y="352.9" font-size="13.3" textLength="48.2" lengthAdjust="spacingAndGlyphs">VR, Mir.</text>
<text x="609.6" y="389.2" font-size="13.3" textLength="23.25" lengthAdjust="spacingAndGlyphs">CE:</text>
<path d="M613.4 396.6L615.9 399.1L613.4 401.6L610.9 399.1Z" fill="#008000"/>
<text x="623.74" y="403.6" font-size="13.3" textLength="25.73" lengthAdjust="spacingAndGlyphs">Drz.</text>
<rect x="611.57" y="411.88" width="3.65" height="3.65" fill="white" stroke="#008000" stroke-width="1.25"/>
<text x="625.55" y="417" font-size="13.3" textLength="22.98" lengthAdjust="spacingAndGlyphs">Zaj.</text>
<circle cx="613.4" cy="428.5" r="1.9" fill="white" stroke="#008000" stroke-width="1.2"/>
<text x="625.57" y="432.4" font-size="13.3" textLength="60.23" lengthAdjust="spacingAndGlyphs">Zes., Zap.</text>
<text x="609.75" y="466.3" font-size="13.3" textLength="23.19" lengthAdjust="spacingAndGlyphs">NE:</text>
<circle cx="613.4" cy="476.3" r="1.7" fill="white" stroke="#0000ff" stroke-width="1.2"/>
<text x="623.54" y="480.8" font-size="13.3" textLength="24.93" lengthAdjust="spacingAndGlyphs">Hal.</text>
<text x="623.56" y="498.1" font-size="13.3" textLength="60.48" lengthAdjust="spacingAndGlyphs">Bov., Jar.,</text>
<rect x="611" y="505.1" width="4.8" height="4.8" fill="#0000ff"/>
<text x="623.58" y="512.5" font-size="13.3" textLength="62.05" lengthAdjust="spacingAndGlyphs">Mid., Roa,</text>
<text x="624.64" y="527.9" font-size="13.3" textLength="17.18" lengthAdjust="spacingAndGlyphs">Vik</text>
</svg>
</body></html>
